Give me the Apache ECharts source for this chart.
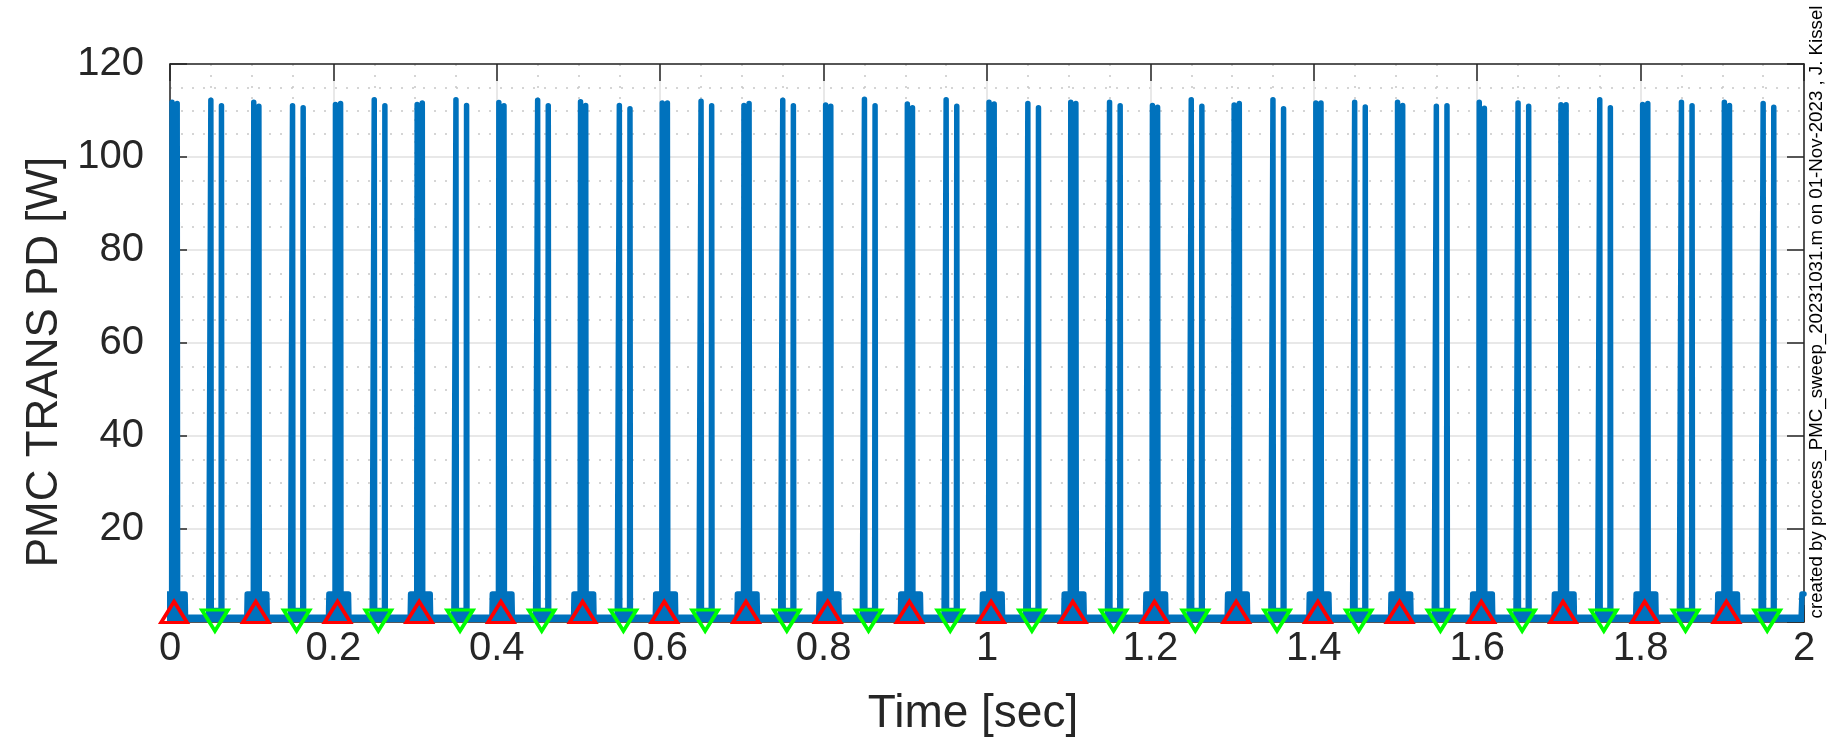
<!DOCTYPE html>
<html><head><meta charset="utf-8">
<script src="https://cdn.jsdelivr.net/npm/echarts@6/dist/echarts.min.js"></script>
<style>html,body{margin:0;padding:0;background:#fff}#c{width:1839px;height:751px}</style>
</head><body><div id="c"></div>
<script>
// ---- data ----
const xTickValues = [0, 0.2, 0.4, 0.6, 0.8, 1, 1.2, 1.4, 1.6, 1.8, 2];
const yTickValues = [20, 40, 60, 80, 100, 120];

// red (up-triangle) and green (down-triangle) marker times [sec]
const redMarkerTimes = [0.005, 0.105, 0.205, 0.305, 0.405, 0.505, 0.605, 0.705, 0.805, 0.905,
                        1.005, 1.105, 1.205, 1.305, 1.405, 1.505, 1.605, 1.705, 1.805, 1.905];
const greenMarkerTimes = [0.055, 0.155, 0.255, 0.355, 0.455, 0.555, 0.655, 0.755, 0.855, 0.955,
                          1.055, 1.155, 1.255, 1.355, 1.455, 1.555, 1.655, 1.755, 1.855, 1.955];
const markerLevel = 1.3;

// peak heights [W] for the pair of peaks in each group
const redPeakHeights = [
  [111.8, 111.5], [111.8, 110.9], [111.3, 111.5], [111.3, 111.6], [111.7, 111.0],
  [111.9, 111.1], [111.6, 111.6], [111.1, 111.5], [111.2, 110.9], [111.4, 110.6],
  [111.8, 111.4], [111.8, 111.5], [111.1, 110.7], [111.2, 111.5], [111.6, 111.6],
  [111.75, 111.1], [111.75, 110.5], [111.25, 111.25], [111.3, 111.5], [111.8, 111.1]
];
const greenPeakHeights = [
  [112.2, 111.0], [111.0, 110.6], [112.3, 111.0], [112.3, 111.1], [112.2, 111.0],
  [111.1, 110.4], [112.0, 111.0], [112.2, 111.0], [112.4, 111.0], [112.3, 110.9],
  [111.5, 110.6], [111.75, 111.0], [112.3, 110.9], [112.3, 110.4], [111.75, 110.75],
  [110.9, 111.0], [111.6, 110.9], [112.3, 110.6], [111.75, 111.0], [111.5, 110.7]
];

// levels [W] and feature timing relative to the markers [sec]
const baseLevel = 1.0;
const shoulderLevel = 6.0;
const greenBaseLevel = 2.5;
const redShoulderSpan = [-0.011, 0.014];
const redPeakOffsets = [-0.0025, 0.0038];
const greenBaseSpan = [-0.008, 0.011];
const greenPeakOffsets = [-0.005, 0.008];
const peakHalfWidth = 0.0005;
const tailTimes = [1.9965, 1.9975, 2.0];
const tailValues = [1.0, 6.0, 6.0];

const noteText = 'created by process_PMC_sweep_20231031.m on 01-Nov-2023 , J. Kissel';

// ---- build the trace from the read values ----
const trace = [];
function group(t0, span, lvl, offs, hts) {
  trace.push([t0 + span[0], baseLevel]);
  trace.push([t0 + span[0] + 0.0005, lvl]);
  offs.forEach((o, i) => {
    trace.push([t0 + o - peakHalfWidth, lvl]);
    trace.push([t0 + o, hts[i]]);
    trace.push([t0 + o + peakHalfWidth, lvl]);
  });
  trace.push([t0 + span[1] - 0.0005, lvl]);
  trace.push([t0 + span[1], baseLevel]);
}
for (let k = 0; k < redMarkerTimes.length; k++) {
  group(redMarkerTimes[k], redShoulderSpan, shoulderLevel, redPeakOffsets, redPeakHeights[k]);
  group(greenMarkerTimes[k], greenBaseSpan, greenBaseLevel, greenPeakOffsets, greenPeakHeights[k]);
}
tailTimes.forEach((t, i) => trace.push([t, tailValues[i]]));

const FONT = '"Liberation Sans", Arial, Helvetica, sans-serif';
const AX = '#262626';
const BLUE = '#0072BD';

function axisCommon(extra) {
  return Object.assign({
    type: 'value',
    axisLine: { show: true, onZero: false, lineStyle: { color: AX, width: 1.5 } },
    axisTick: { show: true, inside: true, length: 17, lineStyle: { color: AX, width: 1.5 } },
    minorTick: { show: false, splitNumber: 4 },
  }, extra);
}

const chart = echarts.init(document.getElementById('c'), null, { renderer: 'canvas' });
chart.setOption({
  animation: false,
  backgroundColor: '#ffffff',
  grid: { left: 170, top: 64, width: 1634, height: 558, containLabel: false },
  xAxis: [
    axisCommon({
      min: xTickValues[0], max: xTickValues[xTickValues.length - 1], interval: 0.2,
      position: 'bottom',
      name: 'Time [sec]', nameLocation: 'middle', nameGap: 69,
      nameTextStyle: { fontSize: 46, color: AX, fontFamily: FONT, padding: [0, 28, 0, 0] },
      axisLabel: { fontSize: 40, color: AX, fontFamily: FONT, margin: 7 },
      splitLine: { show: true, lineStyle: { color: '#e0e0e0', width: 1.5 } },
      minorSplitLine: { show: true, lineStyle: { color: '#c8c8c8', width: 1.5, type: [2, 9] } }
    }),
    axisCommon({
      min: xTickValues[0], max: xTickValues[xTickValues.length - 1], interval: 0.2,
      position: 'top',
      axisLabel: { show: false }, splitLine: { show: false }
    })
  ],
  yAxis: [
    axisCommon({
      min: 0, max: yTickValues[yTickValues.length - 1], interval: 20,
      position: 'left',
      name: 'PMC TRANS PD [W]', nameLocation: 'middle', nameGap: 98,
      nameTextStyle: { fontSize: 44, color: AX, fontFamily: FONT, padding: [0, 38, 0, 0] },
      axisLabel: { fontSize: 40, color: AX, fontFamily: FONT, margin: 26, showMinLabel: false },
      splitLine: { show: true, lineStyle: { color: '#e0e0e0', width: 1.5 } },
      minorSplitLine: { show: true, lineStyle: { color: '#c8c8c8', width: 1.5, type: [2, 9] } }
    }),
    axisCommon({
      min: 0, max: yTickValues[yTickValues.length - 1], interval: 20,
      position: 'right',
      axisLabel: { show: false }, splitLine: { show: false }
    })
  ],
  series: [
    {
      type: 'line', data: trace, xAxisIndex: 0, yAxisIndex: 0,
      showSymbol: false, symbol: 'none', sampling: null, z: 2,
      lineStyle: { color: BLUE, width: 5.5, join: 'round', cap: 'round' },
      areaStyle: { color: BLUE, opacity: 1, origin: 'start' }
    },
    {
      type: 'scatter', xAxisIndex: 0, yAxisIndex: 0, z: 5,
      data: redMarkerTimes.map(t => [t, markerLevel]),
      symbol: 'triangle', symbolSize: [26, 21], symbolOffset: [0, -4],
      itemStyle: { color: 'rgba(0,0,0,0)', borderColor: '#ff0000', borderWidth: 3.5, opacity: 1 }
    },
    {
      type: 'scatter', xAxisIndex: 0, yAxisIndex: 0, z: 5,
      data: greenMarkerTimes.map(t => [t, markerLevel]),
      symbol: 'path://M0,0 L2,0 L1,2 Z', symbolSize: [26, 21], symbolOffset: [0, 4.5],
      symbolKeepAspect: false,
      itemStyle: { color: 'rgba(0,0,0,0)', borderColor: '#00ff00', borderWidth: 3.5, opacity: 1 }
    }
  ],
  graphic: [{
    type: 'text', x: 1817, y: 312, rotation: Math.PI / 2,
    style: { text: noteText, font: '18.7px ' + FONT, fill: '#000000', align: 'center', verticalAlign: 'middle' }
  }]
});
</script>
</body></html>
